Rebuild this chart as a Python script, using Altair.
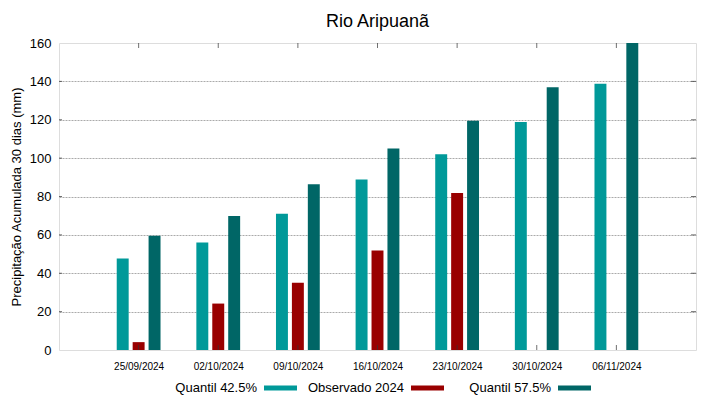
import altair as alt
import pandas as pd

dates = ["25/09/2024", "02/10/2024", "09/10/2024", "16/10/2024",
         "23/10/2024", "30/10/2024", "06/11/2024"]
q425 = [47.7, 56, 71, 88.8, 102, 118.8, 138.7]
observado = [4.1, 24.2, 35, 51.8, 81.8, None, None]
q575 = [59.5, 69.8, 86.4, 105, 119.5, 137, 160]

series = ["Quantil 42.5%", "Observado 2024", "Quantil 57.5%"]
colors = ["#009999", "#990000", "#006666"]
offsets = [-0.2, 0.0, 0.2]
half = 0.075

rows = []
for s, vals, off in zip(series, [q425, observado, q575], offsets):
    for i, v in enumerate(vals):
        if v is None:
            continue
        rows.append({"idx": i, "series": s, "value": v, "off": off})
df = pd.DataFrame(rows)

FONT = "Liberation Sans"
xscale = alt.Scale(domain=[-1, 7], nice=False, zero=False)
yscale = alt.Scale(domain=[0, 160], nice=False)

labels_js = "[" + ",".join("'%s'" % d for d in dates) + "]"

xaxis = alt.Axis(values=list(range(len(dates))),
                 labelExpr=f"{labels_js}[datum.value]",
                 title=None, grid=False, domain=False, ticks=False,
                 labelFontSize=10, labelPadding=11, labelFont=FONT,
                 labelColor="black")
yaxis = alt.Axis(values=list(range(0, 161, 20)),
                 title="Precipitação Acumulada 30 dias (mm)",
                 titleFontSize=13, titleFont=FONT, titleFontWeight="normal",
                 titleColor="black", titlePadding=6,
                 labelFontSize=13, labelFont=FONT, labelColor="black",
                 labelPadding=8, domain=False, ticks=False,
                 grid=True, gridColor="#aaaaaa", gridDash=[2, 1],
                 gridWidth=1,
                 gridOpacity={"condition": {"test": "datum.value == 0 || datum.value == 160",
                                            "value": 0}, "value": 1})

bars = alt.Chart(df).transform_calculate(
    x0=f"datum.idx + datum.off - {half}",
    x1=f"datum.idx + datum.off + {half}",
).mark_bar().encode(
    x=alt.X("x0:Q", scale=xscale, axis=xaxis),
    x2="x1:Q",
    y=alt.Y("value:Q", scale=yscale, axis=yaxis),
    y2=alt.datum(0),
    color=alt.Color("series:N", scale=alt.Scale(domain=series, range=colors),
                    legend=None),
)

idx_df = pd.DataFrame({"idx": list(range(len(dates)))})
top_ticks = alt.Chart(idx_df).transform_calculate(yv="160").mark_tick(
    orient="vertical", size=10, thickness=1, color="#333333", clip=True
).encode(x=alt.X("idx:Q", scale=xscale, axis=xaxis),
         y=alt.Y("yv:Q", scale=yscale, axis=yaxis))
bot_ticks = alt.Chart(idx_df).transform_calculate(yv="0").mark_tick(
    orient="vertical", size=10, thickness=1, color="#333333", clip=True
).encode(x=alt.X("idx:Q", scale=xscale, axis=xaxis),
         y=alt.Y("yv:Q", scale=yscale, axis=yaxis))

yt_df = pd.DataFrame({"yv": list(range(20, 160, 20))})
right_ticks = alt.Chart(yt_df).transform_calculate(xv="7").mark_tick(
    orient="horizontal", size=10, thickness=1, color="#333333", clip=True
).encode(x=alt.X("xv:Q", scale=xscale, axis=xaxis),
         y=alt.Y("yv:Q", scale=yscale, axis=yaxis))
left_ticks = alt.Chart(yt_df).transform_calculate(xv="-1").mark_tick(
    orient="horizontal", size=6, thickness=1, color="#333333", clip=True
).encode(x=alt.X("xv:Q", scale=xscale, axis=xaxis),
         y=alt.Y("yv:Q", scale=yscale, axis=yaxis))

one = pd.DataFrame({"a": [0]})
legend_layers = []
text_right = [198, 345, 492]
LEG_Y = 345
for s, c, xr in zip(series, colors, text_right):
    legend_layers.append(alt.Chart(one).mark_text(
        align="right", baseline="middle", fontSize=13, font=FONT, color="black"
    ).encode(x=alt.value(xr), y=alt.value(LEG_Y), text=alt.value(s)))
    legend_layers.append(alt.Chart(one).mark_rule(
        strokeWidth=5, color=c, strokeCap="butt"
    ).encode(x=alt.value(xr + 7), x2=alt.value(xr + 40), y=alt.value(LEG_Y)))

chart = alt.layer(bars, top_ticks, bot_ticks, right_ticks, left_ticks,
                  *legend_layers).properties(
    width=637, height=307,
    padding={"left": 51, "top": 35, "right": 15, "bottom": 45},
    autosize=alt.AutoSizeParams(type="none"),
    title=alt.TitleParams("Rio Aripuanã", fontSize=18, font=FONT,
                          fontWeight="normal", anchor="middle", offset=6,
                          color="black"),
).configure_view(stroke="#444444", strokeWidth=1).configure(background="white")

chart.save("out.html", embed_options={"renderer": "svg", "actions": False})
